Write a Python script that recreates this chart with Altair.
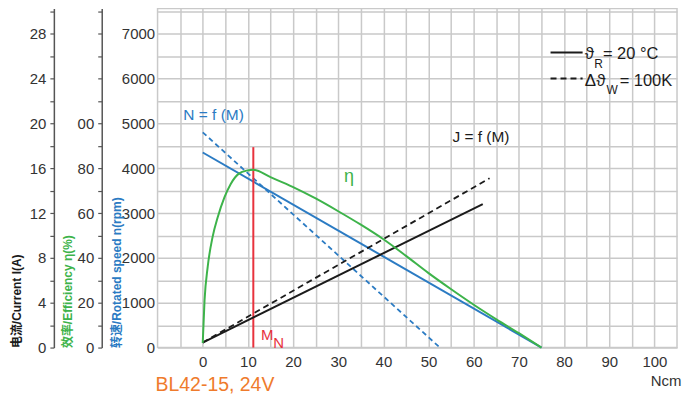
import altair as alt
import pandas as pd

# ---------------- data ----------------
# Speed n = f(M) at 20 °C (solid) and hot (dashed)  [Ncm, rpm]
torque_speed = [0, 75]
speed = [4350, 0]
torque_speed_hot = [0, 52.5]
speed_hot = [4800, 0]

# Current J = f(M)  [Ncm, A]
torque_current = [0, 62]
current = [0.45, 12.8]
torque_current_hot = [0, 63.5]
current_hot = [0.45, 15.1]

# Efficiency eta  [Ncm, %]
torque_eta = [0, 0.4, 1.1, 2.2, 3.3, 4.8, 6.2, 8.0, 9.9, 11.2, 15, 19.9, 25,
              30, 35, 40, 45, 50, 55, 60, 65, 70, 75]
eta = [2, 21, 36, 49.5, 58, 67, 73, 77.6, 79, 79.3, 76, 71.7, 66.5,
       60.8, 54.8, 48.3, 40.9, 33.2, 26.0, 19.1, 12.6, 6.4, 0]

# Rated torque M_N
mn_torque = [11.2]
mn_speed_top = [4470]

# axis ticks
x_ticks = list(range(-5, 101, 5))
speed_ticks = list(range(0, 7501, 500))
current_ticks = list(range(0, 31, 2))
eta_ticks = list(range(0, 151, 10))

# ---------------- style ----------------
BLUE = "#2b7bc3"
GREEN = "#3db34a"
RED = "#e8323d"
ORANGE = "#ef7b2c"
BLACK = "#1b1b1b"
GRID = "#c9c9c9"
AXC = "#555555"
LAB = "#333333"
FC = "Liberation Sans, Arial, sans-serif"
FT = "Liberation Sans, Arial, Noto Sans CJK SC, sans-serif"
LFS = 15  # tick label size

X = alt.X(
    "x:Q",
    scale=alt.Scale(domain=[-10, 105], nice=False, zero=False),
    axis=alt.Axis(
        values=x_ticks,
        labelExpr="datum.value >= 0 && datum.value % 10 == 0 ? datum.label : ''",
        title=None, domain=False, ticks=False, grid=True, gridColor=GRID,
        gridWidth=1.5, labelPadding=7, labelFontSize=LFS, labelColor=LAB,
        labelFont=FC, labelFlush=False,
    ),
)

Y_SPEED = alt.Y(
    "y:Q",
    scale=alt.Scale(domain=[0, 7560], nice=False),
    axis=alt.Axis(
        orient="left", offset=0, values=speed_ticks, format="d",
        labelExpr="datum.value % 1000 == 0 ? datum.label : ''",
        ticks=False, domain=False, grid=True, gridColor=GRID, gridWidth=1.5,
        labelPadding=3, labelFontSize=LFS, labelColor=LAB, labelFont=FC,
        title="转速/Rotated speed n(rpm)", titleAngle=270, titleAlign="left",
        titleBaseline="middle", titleX=-41, titleY=340, titleColor=BLUE,
        titleFont=FT, titleFontSize=12, titleFontWeight="bold",
    ),
)

Y_CUR = alt.Y(
    "y:Q",
    scale=alt.Scale(domain=[0, 30.24], nice=False),
    axis=alt.Axis(
        orient="left", offset=104, values=current_ticks,
        labelExpr="datum.value % 4 == 0 && datum.value <= 28 ? datum.label : ''",
        ticks=True, tickSize=4, tickColor=AXC, tickWidth=1.2,
        domain=True, domainColor=AXC, domainWidth=1.5, grid=False,
        labelPadding=4, labelFontSize=LFS, labelColor=LAB, labelFont=FC,
        title="电流/Current I(A)", titleAngle=270, titleAlign="left",
        titleBaseline="middle", titleX=-37, titleY=340, titleColor=BLACK,
        titleFont=FT, titleFontSize=12, titleFontWeight="bold",
    ),
)

Y_EFF = alt.Y(
    "y:Q",
    scale=alt.Scale(domain=[0, 151.2], nice=False),
    axis=alt.Axis(
        orient="left", offset=56, values=eta_ticks,
        labelExpr="datum.value <= 100 && datum.value % 20 == 0 ? (datum.value == 100 ? '00' : datum.label) : ''",
        ticks=True, tickSize=4, tickColor=AXC, tickWidth=1.2,
        domain=True, domainColor=AXC, domainWidth=1.5, grid=False,
        labelPadding=4, labelFontSize=LFS, labelColor=LAB, labelFont=FC,
        title="效率/Efficiency η(%)", titleAngle=270, titleAlign="left",
        titleBaseline="middle", titleX=-34.5, titleY=340, titleColor=GREEN,
        titleFont=FT, titleFontSize=12, titleFontWeight="bold",
    ),
)

# ---------------- tables ----------------
df_speed = pd.DataFrame({"x": torque_speed, "y": speed})
df_speed_hot = pd.DataFrame({"x": torque_speed_hot, "y": speed_hot})
df_cur = pd.DataFrame({"x": torque_current, "y": current})
df_cur_hot = pd.DataFrame({"x": torque_current_hot, "y": current_hot})
df_eta = pd.DataFrame({"x": torque_eta, "y": eta})
df_mn = pd.DataFrame({"x": mn_torque, "y": [0], "y2": mn_speed_top})

# legend samples (in chart units)
legend_x = [77.0, 84.1]
df_leg_solid = pd.DataFrame({"x": legend_x, "y": [6582, 6582]})
df_leg_dash = pd.DataFrame({"x": legend_x, "y": [6003, 6003]})

label_text = ["ϑ", "R", "= 20 °C", "Δϑ", "W", "= 100K", "M", "N"]
label_x = [84.6, 86.7, 88.6, 84.6, 89.4, 92.3, 12.9, 15.6]
label_y = [6433, 6230, 6433, 5826, 5650, 5826, 178, 0]
label_size = [17, 12, 16.5, 17, 12, 16.5, 15, 15]
label_color = [BLACK, BLACK, BLACK, BLACK, BLACK, BLACK, RED, RED]
df_lab_left = pd.DataFrame({"x": label_x, "y": label_y, "text": label_text,
                            "size": label_size, "color": label_color})

clabel_text = ["N = f (M)", "J = f (M)", "η", "Ncm"]
clabel_x = [2.4, 61.6, 32.4, 102.6]
clabel_y = [5076, 4580, 3691, -860]
clabel_size = [15.5, 15.5, 18, 15]
clabel_color = [BLUE, BLACK, GREEN, LAB]
df_lab_center = pd.DataFrame({"x": clabel_x, "y": clabel_y, "text": clabel_text,
                              "size": clabel_size, "color": clabel_color})

df_model = pd.DataFrame({"x": [-10.45], "y": [-960], "text": ["BL42-15, 24V"]})

# ---------------- speed-scale group ----------------
speed_solid = alt.Chart(df_speed).mark_line(color=BLUE, strokeWidth=2).encode(x=X, y=Y_SPEED)
speed_dash = alt.Chart(df_speed_hot).mark_line(
    color=BLUE, strokeWidth=1.8, strokeDash=[5, 3.5]).encode(x=X, y=Y_SPEED)
mn_rule = alt.Chart(df_mn).mark_rule(color=RED, strokeWidth=2).encode(
    x=X, y=Y_SPEED, y2="y2:Q")
leg_solid = alt.Chart(df_leg_solid).mark_line(color=BLACK, strokeWidth=2).encode(x=X, y=Y_SPEED)
leg_dash = alt.Chart(df_leg_dash).mark_line(
    color=BLACK, strokeWidth=2, strokeDash=[6, 4]).encode(x=X, y=Y_SPEED)
txt_left = alt.Chart(df_lab_left).mark_text(
    align="left", baseline="alphabetic", font=FC).encode(
    x=X, y=Y_SPEED, text="text:N",
    size=alt.Size("size:Q", scale=None, legend=None),
    color=alt.Color("color:N", scale=None, legend=None))
txt_center = alt.Chart(df_lab_center).mark_text(
    align="center", baseline="alphabetic", font=FC).encode(
    x=X, y=Y_SPEED, text="text:N",
    size=alt.Size("size:Q", scale=None, legend=None),
    color=alt.Color("color:N", scale=None, legend=None))
txt_model = alt.Chart(df_model).mark_text(
    align="left", baseline="alphabetic", font=FT, fontSize=19.5, color=ORANGE).encode(
    x=X, y=Y_SPEED, text="text:N")

speed_group = alt.layer(speed_solid, speed_dash, mn_rule, leg_solid, leg_dash,
                        txt_left, txt_center, txt_model)

# ---------------- current-scale group ----------------
cur_solid = alt.Chart(df_cur).mark_line(color=BLACK, strokeWidth=2).encode(x=X, y=Y_CUR)
cur_dash = alt.Chart(df_cur_hot).mark_line(
    color=BLACK, strokeWidth=1.8, strokeDash=[6, 4]).encode(x=X, y=Y_CUR)
cur_group = alt.layer(cur_solid, cur_dash)

# ---------------- efficiency-scale group ----------------
eff_group = alt.Chart(df_eta).mark_line(
    color=GREEN, strokeWidth=2, interpolate="monotone").encode(x=X, y=Y_EFF)

chart = alt.layer(speed_group, cur_group, eff_group).resolve_scale(
    y="independent"
).properties(
    width=521, height=340,
    padding={"left": 150, "top": 0, "right": 6, "bottom": 46},
    autosize=alt.AutoSizeParams(type="none"),
    background="white",
).configure_view(stroke=GRID, strokeWidth=1.5)

chart.save("out.html", embed_options={"renderer": "svg", "actions": False})
